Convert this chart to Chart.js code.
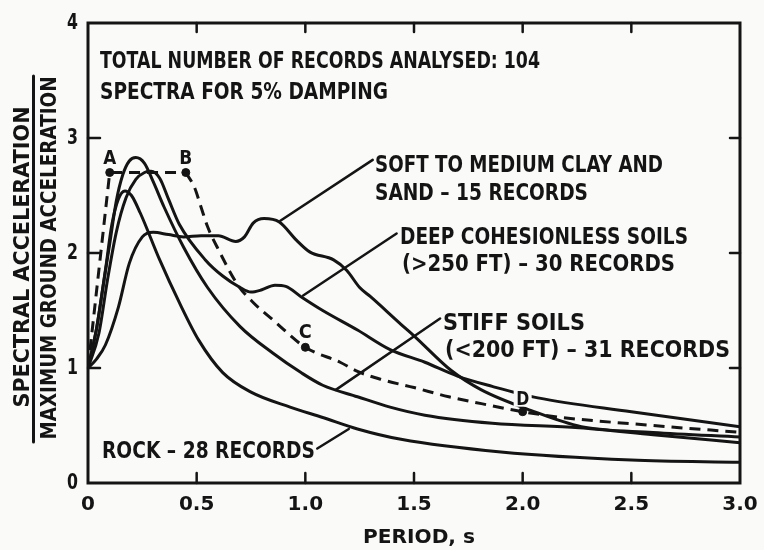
<!DOCTYPE html>
<html>
<head>
<meta charset="utf-8">
<script src="https://cdn.jsdelivr.net/npm/chart.js@4.4.1/dist/chart.umd.min.js"></script>
<style>
  html, body { margin: 0; padding: 0; background: #fafaf8; }
  #wrap { width: 764px; height: 550px; }
</style>
</head>
<body>
<div id="wrap"><canvas id="chart" width="764" height="550"></canvas></div>
<script>
// Axis ticks
const periodTicks = [0, 0.5, 1.0, 1.5, 2.0, 2.5, 3.0];
const periodTickLabels = ['0', '0.5', '1.0', '1.5', '2.0', '2.5', '3.0'];
const ratioTicks = [0, 1, 2, 3, 4];
const ratioTickLabels = ['0', '1', '2', '3', '4'];

// Average normalised spectra (period in s, spectral / max ground acceleration)
const rockT  = [0, 0.04, 0.08, 0.11, 0.14, 0.17, 0.20, 0.24, 0.33, 0.42, 0.51, 0.62, 0.75, 0.93, 1.08, 1.24, 1.44, 1.90, 2.50, 3.00];
const rockSa = [1.0, 1.35, 1.85, 2.25, 2.47, 2.54, 2.50, 2.35, 1.94, 1.57, 1.24, 0.96, 0.79, 0.66, 0.57, 0.47, 0.38, 0.27, 0.20, 0.18];

const stiffT  = [0, 0.04, 0.07, 0.10, 0.13, 0.16, 0.19, 0.22, 0.26, 0.30, 0.35, 0.44, 0.55, 0.70, 0.85, 0.98, 1.08, 1.24, 1.39, 1.55, 1.86, 2.26, 2.60, 3.00];
const stiffSa = [1.0, 1.35, 1.72, 2.08, 2.45, 2.68, 2.80, 2.83, 2.78, 2.62, 2.40, 2.05, 1.70, 1.36, 1.13, 0.96, 0.85, 0.75, 0.66, 0.59, 0.52, 0.48, 0.42, 0.35];

const deepT  = [0, 0.05, 0.09, 0.13, 0.175, 0.22, 0.26, 0.29, 0.33, 0.37, 0.42, 0.54, 0.62, 0.70, 0.75, 0.80, 0.86, 0.91, 0.98, 1.08, 1.24, 1.39, 1.55, 1.70, 1.86, 2.07, 2.50, 3.00];
const deepSa = [1.0, 1.30, 1.77, 2.18, 2.48, 2.64, 2.70, 2.71, 2.65, 2.47, 2.25, 1.94, 1.80, 1.70, 1.66, 1.68, 1.72, 1.71, 1.62, 1.50, 1.33, 1.16, 1.05, 0.93, 0.84, 0.74, 0.62, 0.49];

const softT  = [0, 0.04, 0.08, 0.14, 0.19, 0.25, 0.30, 0.37, 0.44, 0.52, 0.60, 0.68, 0.72, 0.76, 0.81, 0.88, 0.96, 1.02, 1.13, 1.19, 1.25, 1.30, 1.44, 1.50, 1.67, 1.81, 2.04, 2.27, 2.60, 3.00];
const softSa = [1.0, 1.08, 1.20, 1.53, 1.91, 2.14, 2.18, 2.16, 2.14, 2.15, 2.15, 2.10, 2.14, 2.26, 2.30, 2.27, 2.11, 2.01, 1.94, 1.85, 1.70, 1.62, 1.38, 1.28, 0.98, 0.81, 0.63, 0.49, 0.44, 0.40];

// Dashed design spectrum: ramp and plateau, then the descending branch
const designRiseT  = [0, 0.10, 0.45];
const designRiseSa = [1.0, 2.70, 2.70];
const designFallT  = [0.45, 0.49, 0.52, 0.55, 0.60, 0.69, 0.76, 0.85, 1.00, 1.16, 1.24, 1.35, 1.50, 1.66, 1.81, 2.00, 2.18, 2.60, 3.00];
const designFallSa = [2.70, 2.57, 2.40, 2.23, 2.03, 1.72, 1.57, 1.42, 1.18, 1.05, 0.97, 0.90, 0.83, 0.75, 0.69, 0.62, 0.57, 0.50, 0.44];

// Control points on the design spectrum
const cornerNames = ['A', 'B', 'C', 'D'];
const cornerT  = [0.10, 0.45, 1.00, 2.00];
const cornerSa = [2.70, 2.70, 1.18, 0.62];

const pts = (xs, ys) => xs.map((x, i) => ({ x: x, y: ys[i] }));

const INK = '#141414';
const FONT = '"DejaVu Sans", "Liberation Sans", sans-serif';

// Bold lettering squeezed or stretched to a given width
function letter(ctx, str, x, y, size, width, align) {
  ctx.font = 'bold ' + size + 'px ' + FONT;
  const w = ctx.measureText(str).width;
  const sx = width ? width / w : 1;
  ctx.save();
  ctx.translate(x, y);
  ctx.scale(sx, 1);
  ctx.textAlign = align || 'left';
  ctx.fillText(str, 0, 0);
  ctx.restore();
}

// Annotation layout (pixels)
const notes = [
  { text: 'TOTAL NUMBER OF RECORDS ANALYSED: 104', x: 100, y: 68, size: 23, w: 440 },
  { text: 'SPECTRA FOR 5% DAMPING', x: 100, y: 99, size: 23, w: 288 },
  { text: 'SOFT TO MEDIUM CLAY AND', x: 375, y: 172, size: 23, w: 288 },
  { text: 'SAND \u2013 15 RECORDS', x: 375, y: 200, size: 23, w: 213 },
  { text: 'DEEP COHESIONLESS SOILS', x: 400, y: 244, size: 23, w: 288 },
  { text: '(>250 FT) \u2013 30 RECORDS', x: 402, y: 271, size: 23, w: 273 },
  { text: 'STIFF SOILS', x: 443, y: 330, size: 23, w: 142 },
  { text: '(<200 FT) \u2013 31 RECORDS', x: 445, y: 357, size: 23, w: 285 },
  { text: 'ROCK \u2013 28 RECORDS', x: 102, y: 458, size: 23, w: 213 }
];

// Leader lines from labels to curves (data units)
const leaders = [
  [1.31, 2.81, 0.885, 2.28],
  [1.42, 2.17, 0.99, 1.63],
  [1.62, 1.43, 1.14, 0.81],
  [1.055, 0.30, 1.20, 0.47]
];

const decor = {
  id: 'decor',
  afterDatasetsDraw(chart) {
    const ctx = chart.ctx;
    const a = chart.chartArea;
    const xs = chart.scales.x, ys = chart.scales.y;
    ctx.save();
    ctx.strokeStyle = INK;
    ctx.fillStyle = INK;
    ctx.lineCap = 'round';

    // frame
    ctx.lineWidth = 3;
    ctx.strokeRect(a.left, a.top, a.right - a.left, a.bottom - a.top);

    // inward tick marks
    ctx.lineWidth = 2.5;
    periodTicks.forEach(v => {
      if (v <= 0 || v >= 3) return;
      const px = xs.getPixelForValue(v);
      ctx.beginPath(); ctx.moveTo(px, a.bottom); ctx.lineTo(px, a.bottom - 10); ctx.stroke();
      ctx.beginPath(); ctx.moveTo(px, a.top); ctx.lineTo(px, a.top + 9); ctx.stroke();
    });
    ratioTicks.forEach(v => {
      if (v <= 0 || v >= 4) return;
      const py = ys.getPixelForValue(v);
      ctx.beginPath(); ctx.moveTo(a.left, py); ctx.lineTo(a.left + 12, py); ctx.stroke();
      ctx.beginPath(); ctx.moveTo(a.right, py); ctx.lineTo(a.right - 10, py); ctx.stroke();
    });

    // tick labels
    ctx.textBaseline = 'alphabetic';
    periodTicks.forEach((v, i) => {
      letter(ctx, periodTickLabels[i], xs.getPixelForValue(v), a.bottom + 27, 20, null, 'center');
    });
    ctx.textBaseline = 'middle';
    ratioTicks.forEach((v, i) => {
      const py = ys.getPixelForValue(v);
      ctx.font = 'bold 21px ' + FONT;
      const w = ctx.measureText(ratioTickLabels[i]).width * 0.75;
      letter(ctx, ratioTickLabels[i], a.left - 10, py + 1, 21, w, 'right');
    });
    ctx.textBaseline = 'alphabetic';

    // axis titles
    letter(ctx, 'PERIOD, s', 363, 543, 19, 112, 'left');
    ctx.save();
    ctx.translate(29, 257);
    ctx.rotate(-Math.PI / 2);
    letter(ctx, 'SPECTRAL ACCELERATION', 0, 0, 22, 301, 'center');
    ctx.restore();
    ctx.save();
    ctx.translate(56, 258);
    ctx.rotate(-Math.PI / 2);
    letter(ctx, 'MAXIMUM GROUND ACCELERATION', 0, 0, 21, 363, 'center');
    ctx.restore();
    ctx.lineWidth = 3;
    ctx.beginPath(); ctx.moveTo(33.5, 76); ctx.lineTo(33.5, 442); ctx.stroke();

    // leader lines
    ctx.lineWidth = 2.5;
    leaders.forEach(l => {
      ctx.beginPath();
      ctx.moveTo(xs.getPixelForValue(l[0]), ys.getPixelForValue(l[1]));
      ctx.lineTo(xs.getPixelForValue(l[2]), ys.getPixelForValue(l[3]));
      ctx.stroke();
    });

    // corner letters
    const offs = [[0, -16], [0, -16], [0, -16], [0, -14]];
    cornerNames.forEach((n, i) => {
      const px = xs.getPixelForValue(cornerT[i]) + offs[i][0];
      const py = ys.getPixelForValue(cornerSa[i]) + offs[i][1];
      if (n === 'D') {
        ctx.fillStyle = '#fafaf8';
        ctx.fillRect(px - 9, py - 9, 18, 18);
        ctx.fillStyle = INK;
      }
      letter(ctx, n, px, py + 7, 20, 13, 'center');
    });

    // annotations
    notes.forEach(n => letter(ctx, n.text, n.x, n.y, n.size, n.w, 'left'));
    ctx.restore();
  }
};

const solid = (data) => ({
  data: data,
  borderColor: INK,
  borderWidth: 3,
  pointRadius: 0,
  cubicInterpolationMode: 'monotone',
  fill: false
});

new Chart(document.getElementById('chart'), {
  type: 'line',
  data: {
    datasets: [
      Object.assign(solid(pts(rockT, rockSa)), { label: 'Rock' }),
      Object.assign(solid(pts(stiffT, stiffSa)), { label: 'Stiff soils' }),
      Object.assign(solid(pts(deepT, deepSa)), { label: 'Deep cohesionless soils' }),
      Object.assign(solid(pts(softT, softSa)), { label: 'Soft to medium clay and sand' }),
      { label: 'Design rise', data: pts(designRiseT, designRiseSa), borderColor: INK, borderWidth: 3,
        borderDash: [11, 7], pointRadius: 0, tension: 0, fill: false },
      { label: 'Design fall', data: pts(designFallT, designFallSa), borderColor: INK, borderWidth: 3,
        borderDash: [11, 7], pointRadius: 0, cubicInterpolationMode: 'monotone', fill: false },
      { label: 'Corners', data: pts(cornerT, cornerSa), showLine: false, pointRadius: 4,
        pointBackgroundColor: INK, pointBorderColor: INK }
    ]
  },
  options: {
    responsive: false,
    animation: false,
    devicePixelRatio: 1,
    layout: { padding: { left: 88, right: 24, top: 23, bottom: 67 } },
    plugins: { legend: { display: false }, tooltip: { enabled: false } },
    scales: {
      x: { type: 'linear', min: 0, max: 3, display: false },
      y: { type: 'linear', min: 0, max: 4, display: false }
    }
  },
  plugins: [decor]
});
</script>
</body>
</html>
